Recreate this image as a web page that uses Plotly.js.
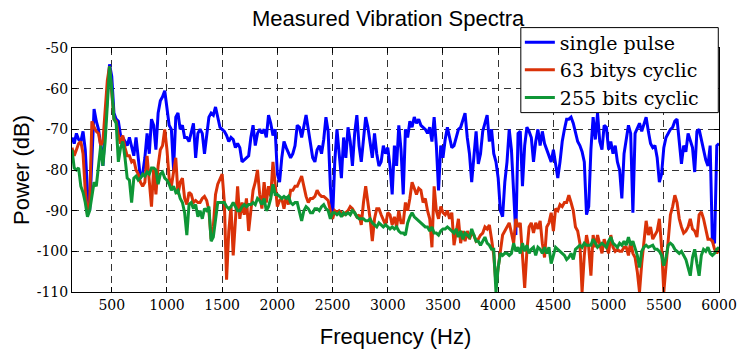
<!DOCTYPE html>
<html><head><meta charset="utf-8">
<script src="https://cdn.plot.ly/plotly-3.0.1.min.js"></script>
<style>html,body{margin:0;padding:0;background:#fff;} #chart{width:738px;height:350px;}</style>
</head><body><div id="chart"></div>
<script>
const seriesNames = ['single pulse', '63 bitys cyclic', '255 bits cyclic'];
const freqStart = 140;   // Hz, first spectral bin
const freqStep = 20;     // Hz, bin spacing

const singlePulse = [-72,-73.5,-71,-72.5,-73,-70.5,-75,-85,-90,-75,
-65,-68,-70,-74,-79,-70,-62,-54,-57,-66,
-67.5,-68,-71.5,-72,-73,-74,-72,-74,-76.5,-72,
-77,-82,-81,-77,-71,-76,-67.5,-69,
-75,-66,-63,-62,-60.5,-65,-69,-70,-80,-67,
-66,-70,-69,-72,-72,-73,-71,-68.5,-77,-71,
-70,-71,-76,-71,-67,-66,-66.5,-64.5,-67,-69.5,
-70,-70.5,-71.5,-73,-72,-72.5,-74.5,-73.5,
-74.5,-78,-77.5,-77,-76.5,-72,-69,-74,-71,-70,
-71,-70,-72,-66.5,-68.5,-71.5,-70,-81,-83,-77,
-73,-74.5,-76,-77,-76,-74,-69,-69.5,-72,-69,
-66.5,-70,-73,-77,-78,-75,-74,
-76,-72.5,-67,-70.5,-84,-92,-78,-70,-77,-82,
-72,-77,-69.5,-73,-79,-71,-66.5,-74,-78,-72,
-67,-69.5,-74,-77,-71,-76,-79,-78,-74,-76,
-74.5,-79,-86,-74,-79,-69,-75,-86,
-70,-72,-68,-69.5,-67,-68.5,-67.5,-69,-69.5,-70,
-71,-69.5,-73,-67,-74,-85,-74,-77,-72.5,-69.5,
-72,-74.5,-74,-72,-70,-69.5,-67.5,-66,-72,-76,
-83,-77,-70.5,-78.5,-76,-70.5,-68.5,
-66.5,-73,-70,-76,-78,-82,-90,-91.5,-83,-78,
-70,-75,-87,-96,-71,-70.5,-84,-74,-69.5,-70.5,
-72,-78,-73,-70,-74,-70.5,-73.5,-75,-77,-78,
-75,-78,-82,-78,-73,-70,-67.5,-67.5,
-67,-68.5,-71,-73,-74,-75.5,-78,-91,-89,-75,
-67,-72.5,-66,-73,-75,-69,-69.5,-75,-73,-76,
-74,-78,-80,-87,-76,-72.5,-69,-71,-90.5,-71,
-69.5,-68.5,-70.5,-69,-67,-70.5,-73.5,
-74.5,-74,-77,-83,-81,-74.5,-72,-71,-70,-69.5,
-68,-67.5,-73,-78.5,-74,-75.5,-71,-72.5,-74.5,-80.5,
-70.5,-70,-73,-75,-77.5,-79,-74,-97.5,-98,-74,-73.5];

const cyclic63 = [-74.5,-76.5,-75,-73.5,-73,-76,-85,-91,-88,-68,
-69.5,-70.5,-71,-74,-73,-66,-58,-54.5,-62,-67.5,
-68,-71.5,-73.5,-71.5,-74.5,-76.5,-76.5,-78,-77.5,-80,
-81,-83,-84,-83,-76.5,-82,-89,-79.5,
-86,-79,-75,-74,-70,-75,-82,-84,-81,-77,
-86,-83,-82,-87,-88.5,-85.5,-86,-88,-87.5,-88,
-88,-87,-86.5,-87.5,-90,-97,-94,-86,-83.5,-82,
-81,-88,-107,-95,-89,-101,-91,-84,
-92,-88,-91,-87,-95,-90,-85,-83,-80,-86,
-89.5,-83,-88,-84,-86.5,-78,-84,-89,-87.5,-87,
-89.5,-86.5,-88.5,-85,-85,-84,-84,-82.5,-81.5,-84,
-86.5,-88,-87,-87,-86.5,-85,-86,
-86.5,-86.5,-87,-87.5,-90,-92,-90,-90.5,-90,-90.5,
-91,-90.5,-90,-89,-89.5,-90.5,-91.5,-91,-93.5,-88,
-84,-88,-92,-97.5,-92,-89.5,-89.5,-91,-92.5,-93.5,
-90.5,-91,-93.5,-91.5,-94,-90,-93,-93,
-88,-90,-87,-83,-84.5,-86,-84.5,-85,-88,-87,
-90,-92,-99,-84,-90,-92,-89,-90.5,-91,-90,
-92,-90.5,-98.5,-95,-92,-98,-95,-97.5,-95,-97,
-95.5,-96,-97.5,-97,-96,-95.5,-94,
-94.5,-93.5,-97,-101,-108,-104,-99,-96,-95,-94,
-93,-95.5,-98,-92,-94,-93,-101,-109,-100,-94,
-93,-95.5,-93,-94.5,-92.5,-98,-101.5,-94,-93,-90.5,
-95,-89.5,-90,-88.5,-89,-88,-88,-86.2,
-88,-90,-94,-95,-98,-110,-101,-96,-99,-106,
-96,-99,-96,-98,-100.5,-97,-99,-100.5,-96,-99,
-100,-99.5,-100,-100,-99,-99,-101,-97.5,-100.5,-101.5,
-105,-110,-103,-97,-92.5,-96,-94,
-97,-96,-95,-92,-99,-110,-104,-97,-91,-89,
-86.2,-88,-92,-94,-95.5,-95,-94,-92,-94.5,-95,
-96.5,-91,-90.3,-92,-94.5,-97,-97,-97.5,-99.5,-100.5,-99.5];

const cyclic255 = [-75,-79.5,-80,-79.5,-84,-85.5,-88,-91.5,-90,-86,
-83,-84,-78,-74,-79,-73,-64,-54.5,-60,-67.5,
-68.5,-78,-74.5,-73,-77,-82,-82.5,-88,-82,-81.5,
-82.5,-82,-81,-81.5,-80.5,-81,-79.5,-79.5,
-80,-83.5,-81,-80.5,-82,-82.5,-83.5,-85,-84,-85.5,
-85,-87,-88,-90.5,-96,-88.5,-88,-89.5,-88.5,-91.5,
-90,-92,-89.5,-90,-89,-97.5,-96.5,-92,-88,-88,
-88,-88,-89,-89.5,-89,-88,-89,-90,
-90,-89,-88.5,-89,-88.5,-88.5,-88,-88.5,-87,-87.5,
-88.5,-87,-90,-89,-87,-83.5,-86,-86,-86.5,-87,
-86.5,-87,-86.5,-88,-88.5,-88,-88,-90,-92.5,-90,
-89,-89.5,-90.5,-90.5,-89.5,-89.5,-90,
-89,-88.5,-89.5,-90,-92,-90.5,-90.5,-91,-90.5,-91.5,
-90.5,-91,-90.5,-91,-90,-90.5,-91.5,-92,-92,-92,
-92.5,-92.5,-92,-93,-93.5,-94,-93,-93.5,-94,-93.5,
-94,-94.5,-94,-94.5,-94,-95,-95.5,-95.5,
-96,-93,-91.5,-90.5,-91.5,-92,-92.5,-93,-93.5,-94,
-94,-95,-94,-95.5,-95.5,-96,-95,-94.5,-94.5,-94,
-94.5,-95,-95.5,-94.5,-96.5,-95,-97,-95.5,-96,-96.5,
-94.5,-96,-97.5,-97.5,-98.5,-97.5,-96.5,
-98,-98.5,-99.5,-99.5,-110,-104,-100.5,-101,-100.5,-100.5,
-101,-100.5,-98,-100,-99,-100.5,-98,-100,-98.5,-100.5,
-99.5,-99,-101,-99,-99.5,-100.5,-99,-100.5,-99,-103,
-101,-99,-99.5,-100,-100.5,-101,-102,-101.5,
-100.5,-102,-99.5,-99,-98.5,-99,-98,-98.5,-98.5,-98.5,
-97,-98,-99,-98.5,-98,-98.5,-99,-97.5,-96.5,-98,
-98.5,-99,-98,-98.5,-97.5,-98.5,-96.5,-98.5,-97.5,-99,
-101,-104,-100,-99,-98.5,-99,-98.75,
-98.5,-99.5,-99.5,-100,-101,-103.5,-101.5,-98.5,-98,-98.5,
-99.5,-100,-100.5,-100,-101,-102,-104,-106,-101.5,-99.5,
-103,-106,-101,-99.5,-100,-99,-100.5,-101,-100.5,-99.5,-99];

const xTickVals = [500,1000,1500,2000,2500,3000,3500,4000,4500,5000,5500,6000];
const xTickText = ['500','1000','1500','2000','2500','3000','3500','4000','4500','5000','5500','6000'];
const yTickVals = [-110,-100,-90,-80,-70,-60,-50];
const yTickText = ['-110','-100','-90','-80','-70','-60','-50'];

const colors = ['#0000FF', '#DA3208', '#0E9636'];
const allSeries = [singlePulse, cyclic63, cyclic255];

const traces = allSeries.map((vals, k) => ({
  type: 'scatter', mode: 'lines', name: seriesNames[k],
  x0: freqStart, dx: freqStep, y: vals,
  line: {color: colors[k], width: 3}
}));

const serif = '"DejaVu Serif", "Liberation Serif", serif';
const sans = '"Liberation Sans", Arial, sans-serif';

const axisCommon = {
  showline: true, linecolor: '#000', linewidth: 1, mirror: 'ticks',
  ticks: 'inside', ticklen: 5, tickcolor: '#000', tickwidth: 1,
  showgrid: true, gridcolor: '#333', gridwidth: 1, griddash: '7px,5px',
  zeroline: false, tickmode: 'array',
  tickfont: {family: serif, size: 14, color: '#000'}
};

const layout = {
  width: 738, height: 350,
  margin: {l: 72, r: 19, t: 48, b: 58, pad: 0},
  paper_bgcolor: '#fff', plot_bgcolor: '#fff',
  title: {text: 'Measured Vibration Spectra', font: {family: sans, size: 22, color: '#000'},
          xref: 'container', x: 0.526, xanchor: 'center', yref: 'container', y: 0.948, yanchor: 'middle'},
  xaxis: Object.assign({}, axisCommon, {
    range: [140, 6000], tickvals: xTickVals, ticktext: xTickText,
    title: {text: 'Frequency (Hz)', font: {family: sans, size: 22, color: '#000'}, standoff: 16}
  }),
  yaxis: Object.assign({}, axisCommon, {
    range: [-110, -50], tickvals: yTickVals, ticktext: yTickText,
    title: {text: 'Power (dB)', font: {family: sans, size: 22, color: '#000'}, standoff: 1}
  }),
  shapes: [{
    type: 'rect', xref: 'paper', yref: 'paper', layer: 'above',
    x0: 0.6937, x1: 0.9989, y0: 0.7352, y1: 1.0836,
    fillcolor: '#fff', line: {color: '#000', width: 1}
  }],
  showlegend: true,
  legend: {
    x: 0.6922, xanchor: 'left', y: 1.1012, yanchor: 'top',
    bgcolor: 'rgba(0,0,0,0)', borderwidth: 0,
    font: {family: serif, size: 19, color: '#000'},
    itemwidth: 30, tracegroupgap: 0, traceorder: 'normal'
  }
};

Plotly.newPlot('chart', traces, layout, {staticPlot: true, displayModeBar: false});
</script>
</body></html>
